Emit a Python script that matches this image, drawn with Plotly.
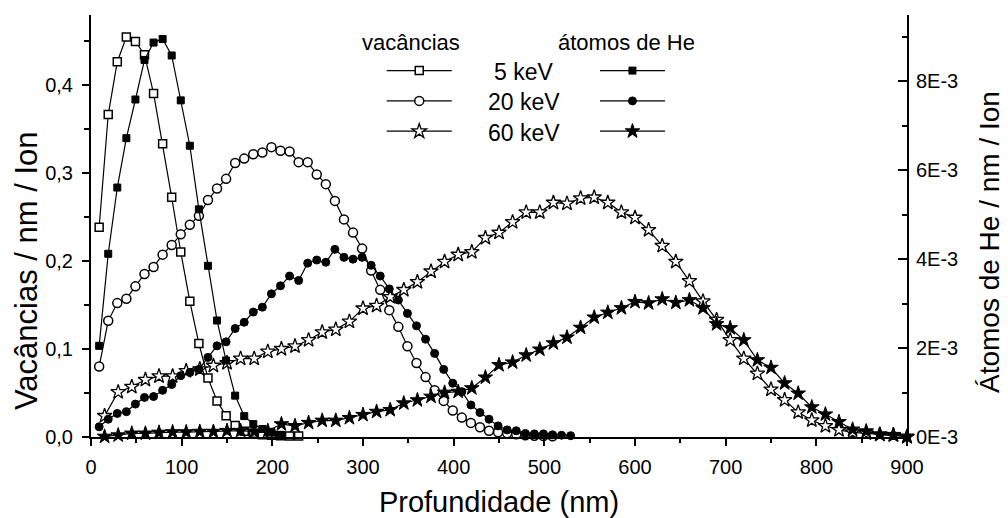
import plotly.graph_objects as go

# ---------------- data ----------------
depth_10nm = [9, 19, 29, 39, 49, 59, 69, 79, 89, 99, 109, 119, 129, 139, 149, 159, 169, 179, 189, 199,
              209, 219, 229, 239, 249, 259, 269, 279, 289, 299, 309, 319, 329, 339, 349, 359, 369, 379,
              389, 399, 409, 419, 429, 439, 449, 459, 469, 479, 489, 499, 509, 519, 529]
depth_15nm = [15, 30, 45, 60, 75, 90, 105, 120, 135, 150, 165, 180, 195, 210, 225, 240, 255, 270, 285, 300,
              315, 330, 345, 360, 375, 390, 405, 420, 435, 450, 465, 480, 495, 510, 525, 540, 555, 570, 585, 600,
              615, 630, 645, 660, 675, 690, 705, 720, 735, 750, 765, 780, 795, 810, 825, 840, 855, 870, 885, 900]

vac_5keV = [0.238, 0.366, 0.426, 0.454, 0.449, 0.434, 0.390, 0.333, 0.272, 0.210, 0.154, 0.106, 0.067,
            0.041, 0.024, 0.013, 0.0065, 0.0042, 0.0025, 0.002, 0.0015, 0.0012, 0.001]
he_5keV = [2.05e-3, 4.12e-3, 5.61e-3, 6.72e-3, 7.59e-3, 8.48e-3, 8.87e-3, 8.95e-3, 8.58e-3, 7.57e-3,
           6.55e-3, 5.12e-3, 3.85e-3, 2.62e-3, 1.72e-3, 0.93e-3, 0.47e-3, 0.29e-3, 0.18e-3, 0.10e-3, 0.05e-3]

vac_20keV = [0.080, 0.132, 0.152, 0.157, 0.171, 0.185, 0.193, 0.207, 0.218, 0.230,
             0.241, 0.251, 0.269, 0.282, 0.293, 0.311, 0.316, 0.321, 0.323, 0.329,
             0.325, 0.324, 0.312, 0.312, 0.298, 0.287, 0.268, 0.247, 0.232, 0.214,
             0.189, 0.167, 0.144, 0.125, 0.103, 0.084, 0.068, 0.053, 0.041, 0.030,
             0.022, 0.016, 0.011, 0.007, 0.0053, 0.0042, 0.003, 0.002, 0.0015, 0.001, 0.0008]
he_20keV = [0.23e-3, 0.40e-3, 0.53e-3, 0.57e-3, 0.74e-3, 0.89e-3, 0.91e-3, 1.05e-3, 1.18e-3, 1.38e-3,
            1.45e-3, 1.52e-3, 1.79e-3, 2.05e-3, 2.14e-3, 2.44e-3, 2.58e-3, 2.81e-3, 2.92e-3, 3.22e-3,
            3.40e-3, 3.62e-3, 3.52e-3, 3.91e-3, 3.98e-3, 3.93e-3, 4.22e-3, 4.04e-3, 4.00e-3, 4.04e-3,
            3.86e-3, 3.62e-3, 3.33e-3, 3.08e-3, 2.78e-3, 2.50e-3, 2.20e-3, 1.88e-3, 1.52e-3, 1.21e-3,
            1.02e-3, 0.72e-3, 0.55e-3, 0.40e-3, 0.25e-3, 0.16e-3, 0.14e-3, 0.08e-3, 0.07e-3, 0.07e-3,
            0.05e-3, 0.04e-3, 0.03e-3]

vac_60keV = [0.024, 0.051, 0.057, 0.065, 0.069, 0.069, 0.075, 0.077, 0.081, 0.084,
             0.089, 0.089, 0.097, 0.100, 0.103, 0.110, 0.119, 0.122, 0.131, 0.146,
             0.149, 0.159, 0.167, 0.176, 0.188, 0.199, 0.207, 0.210, 0.226, 0.232,
             0.244, 0.255, 0.255, 0.266, 0.265, 0.271, 0.272, 0.266, 0.255, 0.249,
             0.235, 0.217, 0.199, 0.177, 0.154, 0.133, 0.110, 0.089, 0.072, 0.054,
             0.042, 0.028, 0.019, 0.0125, 0.008, 0.0053, 0.0042, 0.003, 0.002, 0.0005]
he_60keV = [0.01e-3, 0.04e-3, 0.08e-3, 0.08e-3, 0.10e-3, 0.11e-3, 0.11e-3, 0.12e-3, 0.12e-3, 0.14e-3,
            0.14e-3, 0.12e-3, 0.14e-3, 0.29e-3, 0.25e-3, 0.32e-3, 0.37e-3, 0.37e-3, 0.43e-3, 0.50e-3,
            0.57e-3, 0.61e-3, 0.76e-3, 0.83e-3, 0.91e-3, 1.00e-3, 1.02e-3, 1.10e-3, 1.34e-3, 1.62e-3,
            1.68e-3, 1.84e-3, 1.97e-3, 2.11e-3, 2.24e-3, 2.46e-3, 2.69e-3, 2.80e-3, 2.90e-3, 3.04e-3,
            3.01e-3, 3.10e-3, 3.02e-3, 3.08e-3, 2.90e-3, 2.54e-3, 2.45e-3, 2.18e-3, 1.73e-3, 1.56e-3,
            1.21e-3, 0.98e-3, 0.67e-3, 0.51e-3, 0.34e-3, 0.17e-3, 0.13e-3, 0.05e-3, 0.05e-3, 0.0]

energy_labels = ["5 keV", "20 keV", "60 keV"]
x_ticks = [0, 100, 200, 300, 400, 500, 600, 700, 800, 900]
left_ticks = [0.0, 0.1, 0.2, 0.3, 0.4]
left_ticktext = ["0,0", "0,1", "0,2", "0,3", "0,4"]
right_ticks = [0.0, 0.002, 0.004, 0.006, 0.008]
right_ticktext = ["0E-3", "2E-3", "4E-3", "6E-3", "8E-3"]

FONT = "Liberation Sans, Arial, sans-serif"
BLACK = "black"

fig = go.Figure()

def add(x, y, symbol, size, fill, lw_marker, yaxis, legend):
    fig.add_trace(go.Scatter(
        x=x, y=y, mode="lines+markers", name="",
        yaxis=yaxis, legend=legend, cliponaxis=False,
        line=dict(color=BLACK, width=1.2),
        marker=dict(symbol=symbol, size=size, color=fill,
                    line=dict(color=BLACK, width=lw_marker)),
        hoverinfo="skip",
    ))

# vacancies (left axis) -> legend 1
add(depth_10nm[:len(vac_5keV)], vac_5keV, "square", 8, "white", 1.5, "y", "legend")
add(depth_10nm[:len(vac_20keV)], vac_20keV, "circle", 9, "white", 1.5, "y", "legend")
add(depth_15nm[:len(vac_60keV)], vac_60keV, "star", 11, "white", 1.3, "y", "legend")
# He atoms (right axis) -> legend 2
add(depth_10nm[:len(he_5keV)], he_5keV, "square", 7, BLACK, 1, "y2", "legend2")
add(depth_10nm[:len(he_20keV)], he_20keV, "circle", 8, BLACK, 1, "y2", "legend2")
add(depth_15nm[:len(he_60keV)], he_60keV, "star", 11, BLACK, 1, "y2", "legend2")

axis_common = dict(showgrid=False, zeroline=False, showline=True, linecolor=BLACK, linewidth=2,
                   automargin=False,
                   tickcolor=BLACK, tickwidth=2, tickfont=dict(size=20, color=BLACK, family=FONT))

# the page body adds an 8 px offset, so the figure is 1000x510 with margins reduced by 8 px
fig.update_layout(
    template="none",
    width=1000, height=510,
    margin=dict(l=83, r=101, t=7, b=81, pad=0),
    paper_bgcolor="white", plot_bgcolor="white",
    font=dict(family=FONT, color=BLACK),
    xaxis=dict(range=[0, 900], tickvals=x_ticks, ticks="outside", ticklen=7, ticklabelstandoff=4,
               minor=dict(ticks="outside", dtick=50, ticklen=4, tickwidth=2, tickcolor=BLACK),
               title=dict(text="Profundidade (nm)", font=dict(size=29, family=FONT, color=BLACK), standoff=15),
               **axis_common),
    xaxis2=dict(range=[0, 900], overlaying="x", side="top", anchor="y", tickvals=x_ticks,
                ticks="inside", ticklen=8, showticklabels=False,
                minor=dict(ticks="inside", dtick=50, ticklen=4, tickwidth=2, tickcolor=BLACK),
                **axis_common),
    yaxis=dict(range=[0, 0.479], tickvals=left_ticks, ticktext=left_ticktext, ticks="outside", ticklen=7,
               minor=dict(ticks="outside", dtick=0.05, ticklen=5, tickwidth=2, tickcolor=BLACK),
               ticklabelstandoff=5, **axis_common),
    yaxis2=dict(range=[0, 0.00949], overlaying="y", side="right", anchor="x",
                tickvals=right_ticks, ticktext=right_ticktext, ticks="inside", ticklen=9,
                minor=dict(ticks="inside", dtick=0.001, ticklen=5, tickwidth=2, tickcolor=BLACK),
                ticklabelstandoff=3, **axis_common),
    legend=dict(x=0.3563, y=0.916, xanchor="left", yanchor="top", itemwidth=65,
                font=dict(size=21, family=FONT), bgcolor="rgba(0,0,0,0)", borderwidth=0,
                tracegroupgap=0, itemclick=False, itemdoubleclick=False),
    legend2=dict(x=0.6176, y=0.916, xanchor="left", yanchor="top", itemwidth=65,
                 font=dict(size=21, family=FONT), bgcolor="rgba(0,0,0,0)", borderwidth=0,
                 tracegroupgap=0, itemclick=False, itemdoubleclick=False),
    showlegend=True,
)

ann = []
ann.append(dict(text="vacâncias", x=0.3922, y=0.934, xref="paper", yref="paper",
                xanchor="center", yanchor="middle", showarrow=False, font=dict(size=22)))
ann.append(dict(text="átomos de He", x=0.6562, y=0.934, xref="paper", yref="paper",
                xanchor="center", yanchor="middle", showarrow=False, font=dict(size=22)))
for lbl, yy in zip(energy_labels, [0.8646, 0.7935, 0.7201]):
    ann.append(dict(text=lbl, x=0.5305, y=yy, xref="paper", yref="paper",
                    xanchor="center", yanchor="middle", showarrow=False, font=dict(size=23)))
ann.append(dict(text="Vacâncias / nm / Ion", x=-0.0784, y=0.3934, xref="paper", yref="paper",
                xanchor="center", yanchor="middle", textangle=-90, showarrow=False, font=dict(size=31)))
ann.append(dict(text="Átomos de He / nm / Ion", x=1.1005, y=0.462, xref="paper", yref="paper",
                xanchor="center", yanchor="middle", textangle=-90, showarrow=False, font=dict(size=28)))
fig.update_layout(annotations=ann)

fig.write_html("out.html")
